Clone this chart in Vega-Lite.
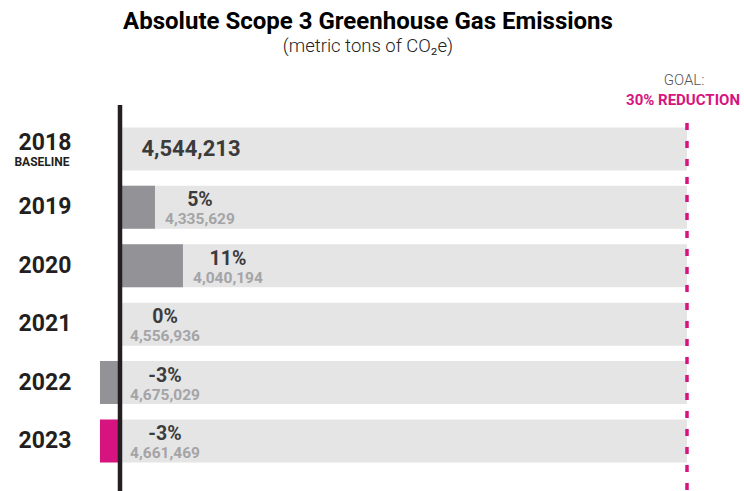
{
  "$schema": "https://vega.github.io/schema/vega-lite/v6.json",
  "width": 744,
  "height": 386,
  "autosize": {"type": "none"},
  "padding": {"top": 105, "left": 0, "right": 0, "bottom": 0},
  "background": "#ffffff",
  "config": {"view": {"stroke": null}},
  "title": {
    "text": "Absolute Scope 3 Greenhouse Gas Emissions",
    "subtitle": "(metric tons of CO₂e)",
    "anchor": "middle",
    "frame": "group",
    "dx": -4,
    "offset": 17,
    "font": "Roboto",
    "fontSize": 24,
    "fontWeight": "bold",
    "color": "#000000",
    "subtitleFont": "Roboto",
    "subtitleFontSize": 18.5,
    "subtitleFontWeight": 300,
    "subtitleColor": "#222222",
    "subtitlePadding": 3
  },
  "data": {
    "values": [
      {"year": "2018", "pct": "", "emissions": 4544213, "from": 0, "to": 0},
      {"year": "2019", "pct": "5%", "emissions": 4335629, "from": 0, "to": 1.85},
      {"year": "2020", "pct": "11%", "emissions": 4040194, "from": 0, "to": 3.33},
      {"year": "2021", "pct": "0%", "emissions": 4556936, "from": 0, "to": 0},
      {"year": "2022", "pct": "-3%", "emissions": 4675029, "from": -1.06, "to": 0},
      {"year": "2023", "pct": "-3%", "emissions": 4661469, "from": -1.06, "to": 0}
    ]
  },
  "encoding": {
    "y": {
      "field": "year",
      "type": "nominal",
      "axis": null,
      "sort": null,
      "scale": {
        "type": "band",
        "domain": ["2018", "2019", "2020", "2021", "2022", "2023"],
        "paddingInner": 0.264,
        "paddingOuter": 0.437,
        "align": 0.44
      }
    }
  },
  "layer": [
    {
      "mark": {"type": "bar", "color": "#e5e5e6"},
      "encoding": {
        "x": {"datum": 0, "type": "quantitative", "axis": null, "scale": {"domain": [-6.349, 33.016], "nice": false, "zero": false}},
        "x2": {"datum": 30}
      }
    },
    {
      "transform": [{"filter": "datum.from != datum.to"}],
      "mark": {"type": "bar"},
      "encoding": {
        "x": {"field": "from", "type": "quantitative"},
        "x2": {"field": "to"},
        "color": {
          "condition": {"test": "datum.year === '2023'", "value": "#d7137f"},
          "value": "#939297"
        }
      }
    },
    {
      "data": {"values": [{"goal": 30}]},
      "mark": {
        "type": "rule",
        "color": "#d7137f",
        "strokeWidth": 3.5,
        "strokeDash": [0, 18, 7, 11, 7, 11, 7, 11, 7, 11, 7, 11, 7, 11, 7, 11, 7, 11, 7, 11, 7, 11, 7, 11, 7, 11, 7, 11, 7, 11, 7, 11, 7, 11, 7, 11, 7, 11, 7, 11, 7, 11, 7, 11, 7, 11]
      },
      "encoding": {"x": {"field": "goal", "type": "quantitative"}, "y": null}
    },
    {
      "data": {"values": [{"zero": 0}]},
      "mark": {"type": "rule", "color": "#231f20", "strokeWidth": 4.5},
      "encoding": {"x": {"field": "zero", "type": "quantitative"}, "y": null}
    },
    {
      "transform": [{"filter": "datum.year !== '2018'"}],
      "mark": {"type": "text", "font": "Roboto", "fontWeight": "bold", "fontSize": 23, "color": "#231f20", "align": "center", "baseline": "middle", "dx": -75},
      "encoding": {"x": {"datum": 0, "type": "quantitative"}, "text": {"field": "year"}}
    },
    {
      "transform": [{"filter": "datum.year === '2018'"}],
      "mark": {"type": "text", "font": "Roboto", "fontWeight": "bold", "fontSize": 23, "color": "#231f20", "align": "center", "baseline": "middle", "dx": -75, "dy": -6},
      "encoding": {"x": {"datum": 0, "type": "quantitative"}, "text": {"field": "year"}}
    },
    {
      "transform": [{"filter": "datum.year === '2018'"}],
      "mark": {"type": "text", "font": "Roboto", "fontWeight": "bold", "fontSize": 12, "color": "#231f20", "align": "center", "baseline": "middle", "dx": -78, "dy": 13},
      "encoding": {"x": {"datum": 0, "type": "quantitative"}, "text": {"value": "BASELINE"}}
    },
    {
      "transform": [{"filter": "datum.year === '2018'"}],
      "mark": {"type": "text", "font": "Roboto", "fontWeight": "bold", "fontSize": 22, "color": "#3b3b3c", "align": "center", "baseline": "middle", "dx": 71},
      "encoding": {"x": {"field": "to", "type": "quantitative"}, "text": {"field": "emissions", "type": "quantitative", "format": ","}}
    },
    {
      "transform": [{"filter": "datum.year !== '2018'"}],
      "mark": {"type": "text", "font": "Roboto", "fontWeight": "bold", "fontSize": 19.5, "color": "#3b3b3c", "align": "center", "baseline": "middle", "dx": 45, "dy": -7},
      "encoding": {"x": {"field": "to", "type": "quantitative"}, "text": {"field": "pct"}}
    },
    {
      "transform": [{"filter": "datum.year !== '2018'"}],
      "mark": {"type": "text", "font": "Roboto", "fontWeight": "bold", "fontSize": 15.5, "color": "#a4a4a6", "align": "center", "baseline": "middle", "dx": 45, "dy": 12},
      "encoding": {"x": {"field": "to", "type": "quantitative"}, "text": {"field": "emissions", "type": "quantitative", "format": ","}}
    },
    {
      "data": {"values": [{"goal": 30, "year": "2018", "label": "GOAL:"}]},
      "mark": {"type": "text", "font": "Roboto", "fontWeight": 300, "fontSize": 15, "color": "#555555", "align": "center", "baseline": "middle", "dx": -3, "dy": -69},
      "encoding": {"x": {"field": "goal", "type": "quantitative"}, "text": {"field": "label"}}
    },
    {
      "data": {"values": [{"goal": 30, "year": "2018", "label": "30% REDUCTION"}]},
      "mark": {"type": "text", "font": "Roboto", "fontWeight": "bold", "fontSize": 15, "color": "#d7137f", "align": "center", "baseline": "middle", "dx": -4, "dy": -49},
      "encoding": {"x": {"field": "goal", "type": "quantitative"}, "text": {"field": "label"}}
    }
  ]
}
